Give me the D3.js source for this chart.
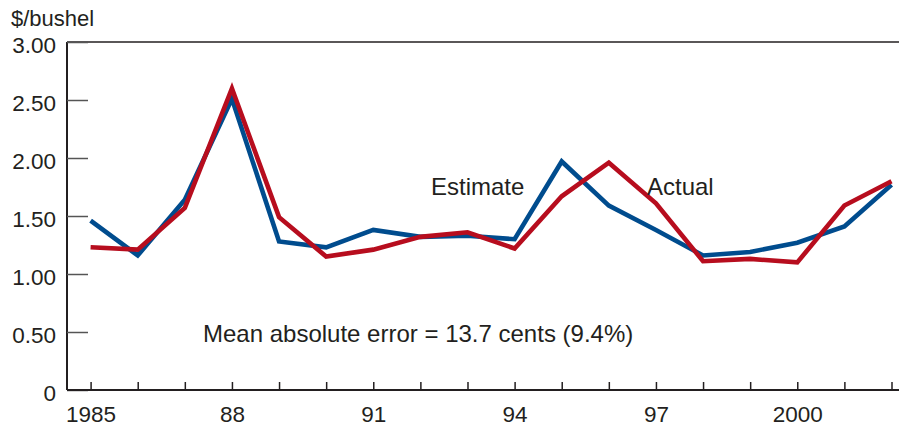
<!DOCTYPE html>
<html>
<head>
<meta charset="utf-8">
<script src="https://cdn.jsdelivr.net/npm/d3@7"></script>
<style>
  body { margin: 0; background: #fff; }
  svg { display: block; font-family: "Liberation Sans", Arial, Helvetica, sans-serif; }
</style>
</head>
<body>
<svg id="chart" width="899" height="428"></svg>
<script>
const years = [1985,1986,1987,1988,1989,1990,1991,1992,1993,1994,1995,1996,1997,1998,1999,2000,2001,2002];
const estimate = [1.46,1.16,1.64,2.51,1.28,1.23,1.38,1.32,1.33,1.30,1.97,1.59,1.38,1.16,1.19,1.27,1.41,1.77];
const actual   = [1.23,1.21,1.57,2.60,1.49,1.15,1.21,1.32,1.36,1.22,1.67,1.96,1.61,1.11,1.13,1.10,1.59,1.80];
const yTicks = [0,0.5,1,1.5,2,2.5,3];
const yTickLabels = ["0","0.50","1.00","1.50","2.00","2.50","3.00"];
const xLabelYears = [1985,1988,1991,1994,1997,2000];
const xLabels = ["1985","88","91","94","97","2000"];

const svg = d3.select("#chart");
const pLeft = 67, pRight = 899, pTop = 42, pBottom = 390;
const x = d3.scaleLinear().domain([1985,2002]).range([90.6, 891.5]);
const y = d3.scaleLinear().domain([0,3]).range([pBottom, pTop]);
const textColor = "#231f20";
const tickFont = 22.5, noteFont = 24;

// top frame line
svg.append("line").attr("x1", pLeft).attr("x2", pRight).attr("y1", pTop).attr("y2", pTop)
  .attr("stroke", "#231f20").attr("stroke-width", 1.5);

// y axis
const yAxis = d3.axisLeft(y).tickValues(yTicks)
  .tickFormat((d,i) => yTickLabels[i]).tickSize(-21).tickPadding(11);
const gy = svg.append("g").attr("transform", `translate(${pLeft},0)`).call(yAxis);
gy.select(".domain").attr("stroke", "#231f20").attr("stroke-width", 2).attr("d", `M0,${pTop}V${pBottom}`);
gy.selectAll(".tick line").attr("stroke", "#555").attr("stroke-width", 1.5);
gy.selectAll(".tick text").attr("font-size", tickFont).attr("fill", textColor)
  .attr("dy", "0.45em")
  .attr("font-family", "Liberation Sans, Arial, sans-serif");

// x axis
const xAxis = d3.axisBottom(x).tickValues(years)
  .tickFormat(d => { const i = xLabelYears.indexOf(d); return i >= 0 ? xLabels[i] : ""; })
  .tickSize(-8).tickPadding(16);
const gx = svg.append("g").attr("transform", `translate(0,${pBottom})`).call(xAxis);
gx.select(".domain").attr("stroke", "#231f20").attr("stroke-width", 2).attr("d", `M${pLeft},0H${pRight}`);
gx.selectAll(".tick line").attr("stroke", "#231f20").attr("stroke-width", 1.5);
gx.selectAll(".tick text").attr("font-size", tickFont).attr("fill", textColor)
  .attr("font-family", "Liberation Sans, Arial, sans-serif");

// unit label
svg.append("text").attr("x", 11).attr("y", 26).attr("font-size", 22).attr("fill", textColor)
  .text("$/bushel");

const line = d3.line().x((d,i) => x(years[i])).y(d => y(d));
svg.append("path").datum(estimate).attr("d", line).attr("fill", "none")
  .attr("stroke", "#004c8e").attr("stroke-width", 4.6).attr("stroke-linejoin", "miter");
svg.append("path").datum(actual).attr("d", line).attr("fill", "none")
  .attr("stroke", "#b70d1e").attr("stroke-width", 4.6).attr("stroke-linejoin", "miter");

// annotations
svg.append("text").attr("x", 431).attr("y", 195).attr("font-size", noteFont).attr("fill", textColor).text("Estimate");
svg.append("text").attr("x", 647).attr("y", 195).attr("font-size", noteFont).attr("fill", textColor).text("Actual");
svg.append("text").attr("x", 203).attr("y", 342).attr("font-size", noteFont).attr("fill", textColor)
  .text("Mean absolute error = 13.7 cents (9.4%)");
</script>
</body>
</html>
